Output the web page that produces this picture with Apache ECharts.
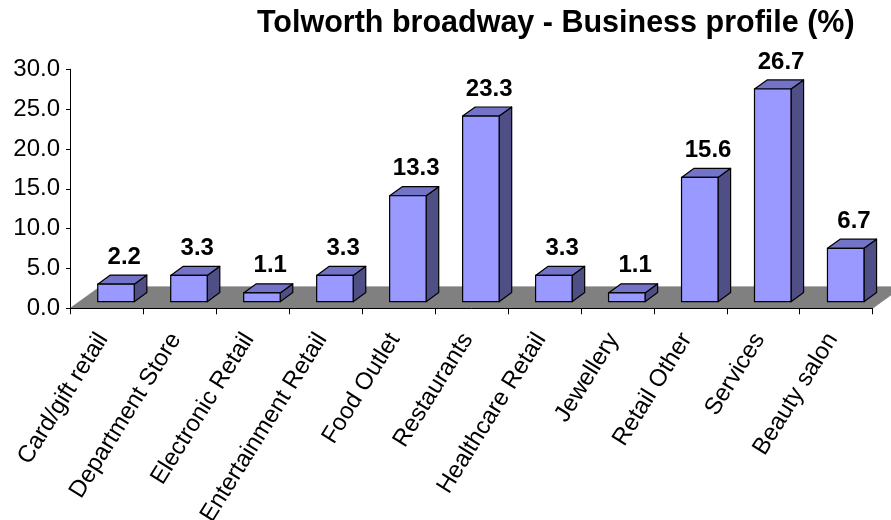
<!DOCTYPE html>
<html>
<head>
<meta charset="utf-8">
<script src="https://cdn.jsdelivr.net/npm/echarts@6/dist/echarts.min.js"></script>
<style>
  html, body { margin: 0; padding: 0; background: #ffffff; }
  #chart { width: 891px; height: 520px; }
</style>
</head>
<body>
<div id="chart"></div>
<script>
// ---- data ----
const titleText = 'Tolworth broadway - Business profile (%)';
const categories = ['Card/gift retail', 'Department Store', 'Electronic Retail', 'Entertainment Retail',
  'Food Outlet', 'Restaurants', 'Healthcare Retail', 'Jewellery', 'Retail Other', 'Services', 'Beauty salon'];
const values = [2.2, 3.3, 1.1, 3.3, 13.3, 23.3, 3.3, 1.1, 15.6, 26.7, 6.7];
const yMin = 0, yMax = 30, yStep = 5;

// ---- style ----
const FONT = '"Liberation Sans", Arial, sans-serif';
const FLOOR_DX = 30, FLOOR_DY = -21.6;   // floor depth
const BAR_OX = 9.5, BAR_OY = -6.6;       // bar front offset into depth
const BAR_DX = 12.6, BAR_DY = -9.1;      // bar depth
const FRONT = '#9999FF', TOP = '#7373C8', SIDE = '#4F4F85';

const chart = echarts.init(document.getElementById('chart'), null, { renderer: 'canvas' });

const option = {
  animation: false,
  backgroundColor: '#ffffff',
  title: {
    text: titleText,
    left: 252, top: 3,
    textStyle: { fontFamily: FONT, fontSize: 30.5, fontWeight: 'bold', color: '#000' }
  },
  grid: { left: 70, right: 18.3, top: 69.3, bottom: 211.7, containLabel: false, outerBoundsMode: 'none' },
  xAxis: {
    type: 'category',
    data: categories,
    z: 10,
    boundaryGap: true,
    axisLine: { lineStyle: { color: '#000', width: 1 } },
    axisTick: { show: true, alignWithLabel: false, length: 6, lineStyle: { color: '#000' } },
    axisLabel: {
      interval: 0, rotate: 58, margin: 21, padding: [0, 7, 0, 0],
      fontFamily: FONT, fontSize: 24, color: '#000'
    }
  },
  yAxis: {
    type: 'value',
    min: yMin, max: yMax, interval: yStep,
    z: 10,
    axisLine: { show: true, lineStyle: { color: '#000', width: 1 } },
    axisTick: { show: true, length: 4, lineStyle: { color: '#000' } },
    splitLine: { show: false },
    axisLabel: {
      margin: 10,
      fontFamily: FONT, fontSize: 24, color: '#000',
      formatter: v => v.toFixed(1)
    }
  },
  series: [
    {
      type: 'custom',
      name: 'floor',
      z: 1,
      silent: true,
      data: [[0, 0]],
      renderItem: function (params, api) {
        const cs = params.coordSys;
        const x0 = cs.x, x1 = cs.x + cs.width, y = cs.y + cs.height;
        return {
          type: 'polygon',
          shape: { points: [[x0, y], [x1, y], [x1 + FLOOR_DX, y + FLOOR_DY], [x0 + FLOOR_DX, y + FLOOR_DY]] },
          style: { fill: '#808080', stroke: '#6e6e6e', lineWidth: 0.5 }
        };
      }
    },
    {
      type: 'custom',
      name: 'bars',
      z: 5,
      data: values.map((v, i) => [i, v]),
      encode: { x: 0, y: 1 },
      renderItem: function (params, api) {
        const i = api.value(0), v = api.value(1);
        const base = api.coord([i, 0]);
        const top = api.coord([i, v]);
        const bw = api.size([1, 0])[0] * 0.5;
        const x0 = base[0] - bw / 2 + BAR_OX;
        const x1 = x0 + bw;
        const yT = top[1] + BAR_OY;
        const yB = base[1] + BAR_OY;
        const stroke = '#000';
        return {
          type: 'group',
          children: [
            {
              type: 'polygon',
              shape: { points: [[x1, yT], [x1 + BAR_DX, yT + BAR_DY], [x1 + BAR_DX, yB + BAR_DY], [x1, yB]] },
              style: { fill: SIDE, stroke: stroke, lineWidth: 1.2, lineJoin: 'round' }
            },
            {
              type: 'polygon',
              shape: { points: [[x0, yT], [x1, yT], [x1 + BAR_DX, yT + BAR_DY], [x0 + BAR_DX, yT + BAR_DY]] },
              style: { fill: TOP, stroke: stroke, lineWidth: 1.2, lineJoin: 'round' }
            },
            {
              type: 'rect',
              shape: { x: x0, y: yT, width: bw, height: yB - yT },
              style: { fill: FRONT, stroke: stroke, lineWidth: 1.2 }
            },
            {
              type: 'text',
              style: {
                text: v.toFixed(1),
                x: x0 + bw / 2 + BAR_DX / 2 + 2,
                y: yT + BAR_DY - 6,
                textAlign: 'center',
                textVerticalAlign: 'bottom',
                font: 'bold 24px ' + FONT,
                fill: '#000'
              }
            }
          ]
        };
      }
    }
  ]
};
chart.setOption(option);
</script>
</body>
</html>
